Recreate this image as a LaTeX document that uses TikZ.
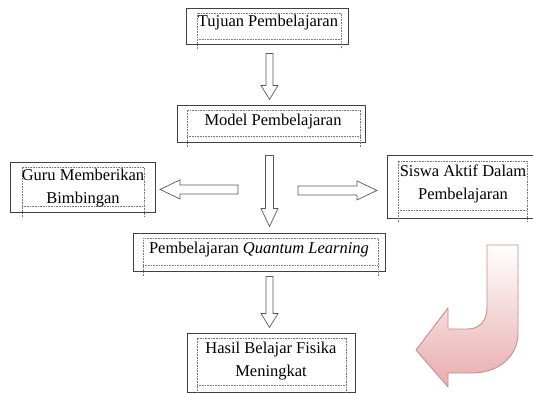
\documentclass[tikz,border=0pt]{standalone}
\usepackage{fontspec}
\setmainfont{Liberation Serif}
\usetikzlibrary{calc}
\definecolor{boxline}{RGB}{64,64,64}
\definecolor{dotgray}{RGB}{120,120,120}
\definecolor{arrline}{RGB}{90,90,90}
\definecolor{pinkedge}{RGB}{205,140,140}
\definecolor{pinkfill}{RGB}{232,172,172}
\tikzset{
 outerbox/.style={draw=boxline, line width=0.9pt, inner sep=0pt, fill=white, rectangle},
 txt/.style={font=\fontsize{16.5}{23}\selectfont, align=center, inner sep=0pt, text=black},
 dotline/.style={draw=dotgray, line width=0.5pt, dash pattern=on 0.8pt off 0.8pt},
 arrshape/.style={draw=arrline, line width=0.7pt, fill=white, line join=miter},
 pics/barrow/.style n args={4}{code={
   \path[arrshape] (0,-#2) -- ({#1-#4},-#2) -- ({#1-#4},-#3) -- (#1,0) -- ({#1-#4},#3) -- ({#1-#4},#2) -- (0,#2) -- cycle;
 }},
}
\begin{document}
\begin{tikzpicture}[x=1pt,y=-1pt]
\useasboundingbox (0,0) rectangle (533,393);
\fill[white] (0,0) rectangle (533,393);

% outer boxes
\node[outerbox, minimum width=162pt, minimum height=36pt] (tujuan) at (267,26) {};
\node[outerbox, minimum width=188pt, minimum height=37pt] (model) at (271,123.5) {};
\node[outerbox, minimum width=145pt, minimum height=50pt] (guru) at (82.5,187) {};
\node[outerbox, minimum width=153pt, minimum height=63pt] (siswa) at (463.5,186.5) {};
\node[outerbox, minimum width=252pt, minimum height=38pt] (ql) at (259,252) {};
\node[outerbox, minimum width=168pt, minimum height=59pt] (hasil) at (271,362.5) {};

% dotted text frames
\draw[dotline] (197,49) -- (197,13) -- (341,13) -- (341,49);
\draw[dotline] (197,39) -- (341,39);
\draw[dotline] (187,147) -- (187,110) -- (360,110) -- (360,147);
\draw[dotline] (187,136) -- (360,136);
\draw[dotline] (22,217) -- (22,167) -- (144,167) -- (144,217);
\draw[dotline] (22,206) -- (144,206);
\draw[dotline] (398,222) -- (398,161) -- (527,161) -- (527,222);
\draw[dotline] (398,210) -- (527,210);
\draw[dotline] (143,276) -- (143,238) -- (378,238) -- (378,276);
\draw[dotline] (143,265) -- (378,265);
\draw[dotline] (197,396) -- (197,338) -- (346,338) -- (346,396);
\draw[dotline] (197,385) -- (346,385);

% texts
\node[txt] (tujuanT) at (268,23) {Tujuan Pembelajaran};
\node[txt] (modelT) at (273,122) {Model Pembelajaran};
\node[txt] (guruT) at (83,188) {Guru Memberikan\\Bimbingan};
\node[txt] (siswaT) at (463,184) {Siswa Aktif Dalam\\Pembelajaran};
\node[txt] (qlT) at (259,250) {Pembelajaran \textit{Quantum Learning}};
\node[txt] (hasilT) at (271,361) {Hasil Belajar Fisika\\Meningkat};

% block arrows
\pic[rotate=-90] at ($(tujuan.south)+(2.5,9)$) {barrow={46}{3.5}{8.5}{14}};
\pic[rotate=-90] at ($(model.south)+(-1.5,13)$) {barrow={71}{4}{8.5}{18}};
\pic[rotate=180] at ($(model.south)+(-33,47)$) {barrow={78}{4.5}{9.5}{20}};
\pic at ($(model.south)+(27,48)$) {barrow={79}{4.5}{9.5}{20}};
\pic[rotate=-90] at ($(ql.south)+(10.5,5)$) {barrow={51}{3.5}{8.5}{14}};

% big curved arrow
\path[top color=white, bottom color=pinkfill, draw=pinkedge, line width=0.9pt, line join=round]
 (487,245) -- (518,245) -- (518,333)
 .. controls (518,357) and (498,373) .. (472,373)
 -- (448,373) -- (448,387) -- (416,350) -- (448,308) -- (448,329) -- (468,329)
 .. controls (480,329) and (487,320) .. (487,308) -- cycle;
\end{tikzpicture}
\end{document}
